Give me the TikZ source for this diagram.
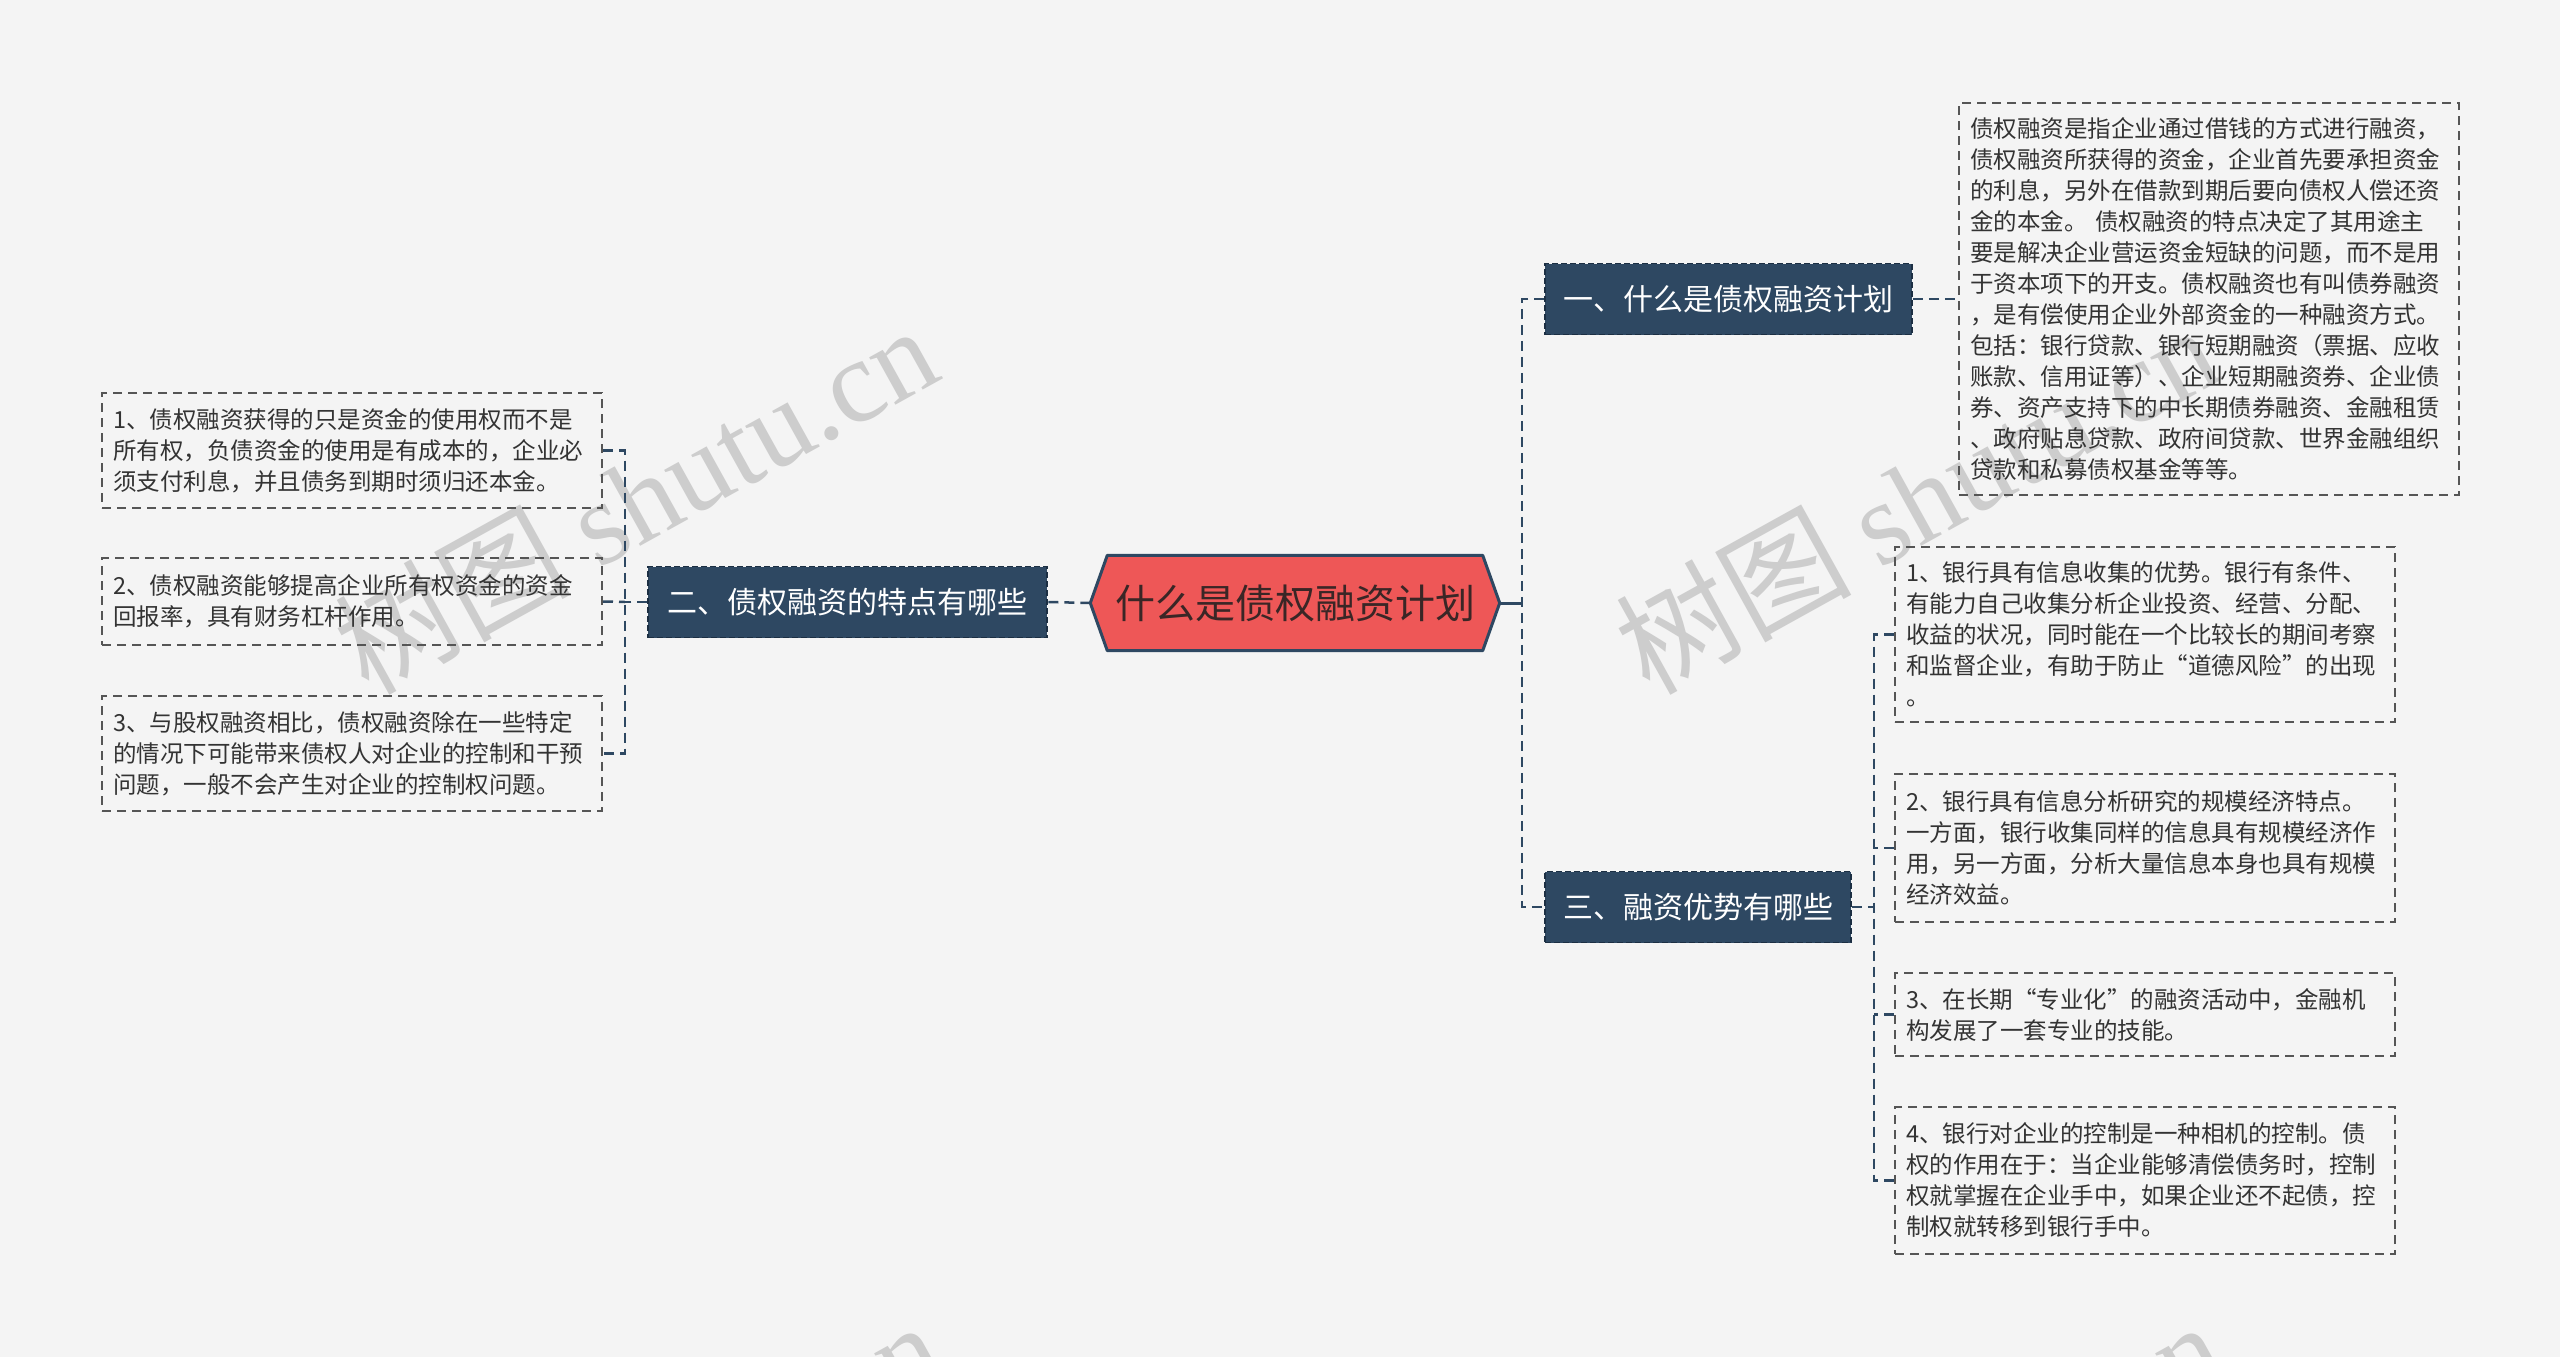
\documentclass[tikz,border=0pt]{standalone}
\usepackage{fontspec}
\setmainfont{Noto Sans CJK SC}
\newfontfamily\wmlatin{Liberation Serif}
\usetikzlibrary{calc}
\pgfdeclarelayer{bg}
\pgfsetlayers{bg,main}
\definecolor{bgc}{HTML}{F4F4F4}
\definecolor{navy}{HTML}{2E4862}
\definecolor{navyedge}{HTML}{1C2F43}
\definecolor{rootred}{HTML}{EE5757}
\definecolor{roottxt}{HTML}{3A2626}
\definecolor{leafline}{HTML}{555555}
\definecolor{txt}{HTML}{333333}
\definecolor{wm}{HTML}{CDCDCD}
\tikzset{
  leaf/.style={draw=leafline, dash pattern=on 9pt off 6pt, line width=2pt, text=txt,
    font=\fontsize{23.5}{31}\selectfont, align=left, text width=478pt,
    inner xsep=11pt, inner ysep=0pt, anchor=west},
  branch/.style={fill=navy, draw=navyedge, dash pattern=on 6pt off 3pt, line width=1.5pt,
    text=white, font=\fontsize{30}{36}\selectfont, inner sep=0pt, minimum height=71pt},
  conn/.style={draw=navy, line width=2.5pt, dash pattern=on 10pt off 6pt},
  solidconn/.style={draw=navy, line width=3pt},
  wmark/.style={rotate=29, text=wm, font=\fontsize{118}{118}\selectfont, inner sep=0pt}
}
\begin{document}
\begin{tikzpicture}[x=1pt,y=-1pt]
\useasboundingbox (0,0) rectangle (2560,1357);

% root and branches
\node[draw=none, minimum width=409pt, minimum height=95pt, inner sep=0pt, text=roottxt,
  font=\fontsize{40}{48}\selectfont] (root) at (1295,603) {什么是债权融资计划};
\node[branch, minimum width=399pt] (b2) at (847.5,602) {二、债权融资的特点有哪些};
\node[branch, minimum width=367pt] (b1) at (1728.5,299) {一、什么是债权融资计划};
\node[branch, minimum width=306pt] (b3) at (1698,907) {三、融资优势有哪些};

% leaves of branch 一
\node[leaf, minimum height=392pt] (R1) at (1958,299) {债权融资是指企业通过借钱的方式进行融资，\\
债权融资所获得的资金，企业首先要承担资金\\
的利息，另外在借款到期后要向债权人偿还资\\
金的本金。 债权融资的特点决定了其用途主\\
要是解决企业营运资金短缺的问题，而不是用\\
于资本项下的开支。债权融资也有叫债券融资\\
，是有偿使用企业外部资金的一种融资方式。\\
包括：银行贷款、银行短期融资（票据、应收\\
账款、信用证等）、企业短期融资券、企业债\\
券、资产支持下的中长期债券融资、金融租赁\\
、政府贴息贷款、政府间贷款、世界金融组织\\
贷款和私募债权基金等等。};

% leaves of branch 二
\node[leaf, minimum height=115pt] (L1) at (101,450.5) {1、债权融资获得的只是资金的使用权而不是\\
所有权，负债资金的使用是有成本的，企业必\\
须支付利息，并且债务到期时须归还本金。};
\node[leaf, minimum height=87pt] (L2) at (101,601.5) {2、债权融资能够提高企业所有权资金的资金\\
回报率，具有财务杠杆作用。};
\node[leaf, minimum height=115pt] (L3) at (101,753.5) {3、与股权融资相比，债权融资除在一些特定\\
的情况下可能带来债权人对企业的控制和干预\\
问题，一般不会产生对企业的控制权问题。};

% leaves of branch 三
\node[leaf, minimum height=175pt] (S1) at (1894,634.5) {1、银行具有信息收集的优势。银行有条件、\\
有能力自己收集分析企业投资、经营、分配、\\
收益的状况，同时能在一个比较长的期间考察\\
和监督企业，有助于防止“道德风险”的出现\\
。};
\node[leaf, minimum height=148pt] (S2) at (1894,848) {2、银行具有信息分析研究的规模经济特点。\\
一方面，银行收集同样的信息具有规模经济作\\
用，另一方面，分析大量信息本身也具有规模\\
经济效益。};
\node[leaf, minimum height=83pt] (S3) at (1894,1014.5) {3、在长期“专业化”的融资活动中，金融机\\
构发展了一套专业的技能。};
\node[leaf, minimum height=147pt] (S4) at (1894,1180.5) {4、银行对企业的控制是一种相机的控制。债\\
权的作用在于：当企业能够清偿债务时，控制\\
权就掌握在企业手中，如果企业还不起债，控\\
制权就转移到银行手中。};

% background, watermarks, root hexagon
\begin{pgfonlayer}{bg}
\fill[bgc] (0,0) rectangle (2560,1357);
\begin{scope}
\clip (0,0) rectangle (2560,1357);
\node[wmark] (w1) at (635,498) {树图 {\wmlatin shutu.cn}};
\node[wmark] (w2) at (1916,498) {树图 {\wmlatin shutu.cn}};
\node[wmark] (w3) at (640,1494) {树图 {\wmlatin shutu.cn}};
\node[wmark] (w4) at (1921,1494) {树图 {\wmlatin shutu.cn}};
\end{scope}
\filldraw[fill=rootred, draw=navy, line width=3pt, line join=round]
  (root.west) -- ($(root.north west)+(17,0)$) -- ($(root.north east)+(-17,0)$)
  -- (root.east) -- ($(root.south east)+(-17,0)$) -- ($(root.south west)+(17,0)$) -- cycle;
\end{pgfonlayer}

% connectors
\coordinate (tR) at (1522,603);
\coordinate (tR1) at (1522,299);
\coordinate (tR3) at (1522,907);
\draw[solidconn] (root.east) -- (tR);
\draw[conn] (b1.west) -- (tR1) -- (tR3) -- (b3.west);
\draw[conn] (b1.east) -- (R1.west);

\coordinate (tL) at (625,602);
\coordinate (tL1) at (625,450.5);
\coordinate (tL3) at (625,753.5);
\draw[conn] (root.west) -- (b2.east);
\draw[conn] (b2.west) -- (tL);
\draw[conn] (L1.east) -- (tL1) -- (tL3) -- (L3.east);
\draw[conn] (L2.east) -- (tL);

\coordinate (tS) at (1874,907);
\coordinate (tS1) at (1874,634.5);
\coordinate (tS4) at (1874,1180.5);
\draw[conn] (b3.east) -- (tS);
\draw[conn] (S1.west) -- (tS1) -- (tS4) -- (S4.west);
\draw[conn] (S2.west) -- (S2.west -| tS);
\draw[conn] (S3.west) -- (S3.west -| tS);
\end{tikzpicture}
\end{document}
